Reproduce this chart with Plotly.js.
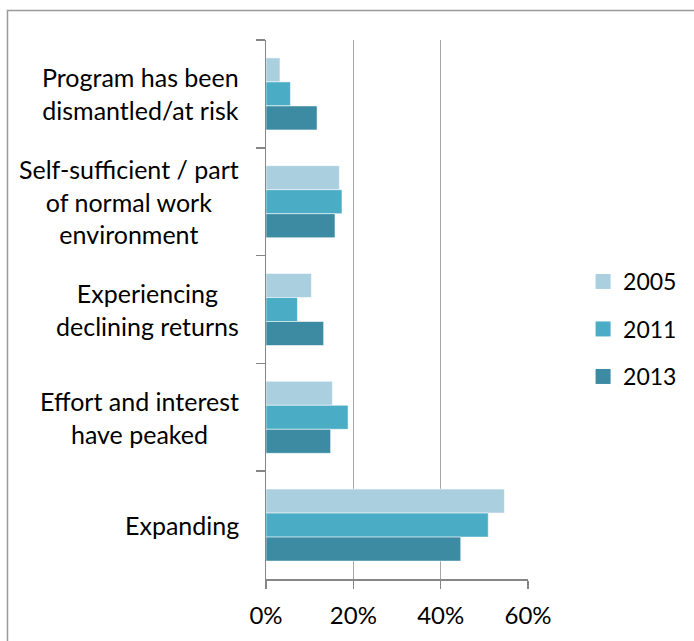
<!DOCTYPE html>
<html>
<head>
<meta charset="utf-8">
<script src="https://cdn.plot.ly/plotly-3.0.1.min.js"></script>
<style>
  html, body { margin: 0; padding: 0; background: #fff; }
  #chart { width: 694px; height: 641px; }
</style>
</head>
<body>
<div id="chart"></div>
<script>
// Categories, top to bottom
const categories = [
  "Program has been<br>dismantled/at risk",
  "Self-sufficient / part<br>of normal work<br>environment",
  "Experiencing<br>declining returns",
  "Effort and interest<br>have peaked",
  "Expanding"
];
const seriesNames = ["2005", "2011", "2013"];
const values2005 = [3.2, 16.8, 10.4, 15.2, 54.6];
const values2011 = [5.6, 17.4, 7.2, 18.8, 50.9];
const values2013 = [11.7, 15.8, 13.2, 14.8, 44.6];
const xTicks = [0, 20, 40, 60];

const colors = ["#AACFDE", "#4BACC6", "#3C8BA3"];
const allValues = [values2005, values2011, values2013];

const FONT = "Lato, 'Open Sans', sans-serif";
const W = 694, H = 641;
const M = { l: 266, r: 164, t: 40, b: 62 };
const pw = W - M.l - M.r, ph = H - M.t - M.b;
const px2paperX = px => (px - M.l) / pw;
const px2paperY = py => (H - M.b - py) / ph;

const barTraces = seriesNames.map((name, i) => ({
  type: "bar",
  orientation: "h",
  name: name,
  legendgroup: name,
  showlegend: false,
  x: allValues[i],
  y: categories,
  marker: { color: colors[i], line: { color: "rgba(255,255,255,0.55)", width: 1 } },
  hoverinfo: "skip"
}));

// legend-only entries (square swatches)
const legendTraces = seriesNames.map((name, i) => ({
  type: "scatter",
  mode: "markers",
  name: name,
  legendgroup: name,
  x: [null], y: [null],
  marker: { symbol: "square", size: 15, color: colors[i] },
  hoverinfo: "skip"
}));

const annotations = categories.map(cat => ({
  xref: "paper", yref: "y",
  x: px2paperX(240.5), y: cat,
  xanchor: "right", yanchor: "middle",
  align: "center",
  text: cat, showarrow: false,
  font: { family: FONT, size: 25, color: "#000" }
}));

const layout = {
  width: W, height: H,
  margin: M,
  paper_bgcolor: "#fff", plot_bgcolor: "#fff",
  font: { family: FONT, size: 20, color: "#000" },
  barmode: "group",
  bargap: 0.332,
  bargroupgap: 0,
  showlegend: true,
  legend: {
    x: px2paperX(585.5), y: px2paperY(260),
    xanchor: "left", yanchor: "top",
    traceorder: "grouped",
    tracegroupgap: 14.6,
    font: { family: FONT, size: 23, color: "#000" },
    bgcolor: "rgba(0,0,0,0)"
  },
  xaxis: {
    range: [0, 60],
    tickvals: xTicks,
    ticktext: xTicks.map(v => v + "%"),
    ticks: "outside", ticklen: 8, tickwidth: 1.5, tickcolor: "#868686",
    ticklabelstandoff: 7,
    showline: true, linecolor: "#868686", linewidth: 1.5,
    showgrid: true, gridcolor: "#a6a6a6", gridwidth: 1.5,
    zeroline: false,
    tickfont: { family: FONT, size: 24, color: "#000" },
    fixedrange: true
  },
  yaxis: {
    type: "category",
    categoryorder: "array", categoryarray: categories,
    autorange: "reversed",
    showticklabels: false,
    ticks: "outside", tickson: "boundaries", ticklen: 9, tickwidth: 1.5, tickcolor: "#868686",
    showline: true, linecolor: "#868686", linewidth: 1.5,
    showgrid: false, zeroline: false,
    fixedrange: true
  },
  annotations: annotations,
  shapes: [{
    type: "rect", xref: "paper", yref: "paper",
    x0: px2paperX(5.5), x1: px2paperX(720),
    y0: px2paperY(10.5), y1: px2paperY(700),
    line: { color: "#9a9a9a", width: 1.5 },
    fillcolor: "rgba(0,0,0,0)", layer: "below"
  }]
};

Plotly.newPlot("chart", barTraces.concat(legendTraces), layout, { displayModeBar: false, staticPlot: true });
</script>
</body>
</html>
